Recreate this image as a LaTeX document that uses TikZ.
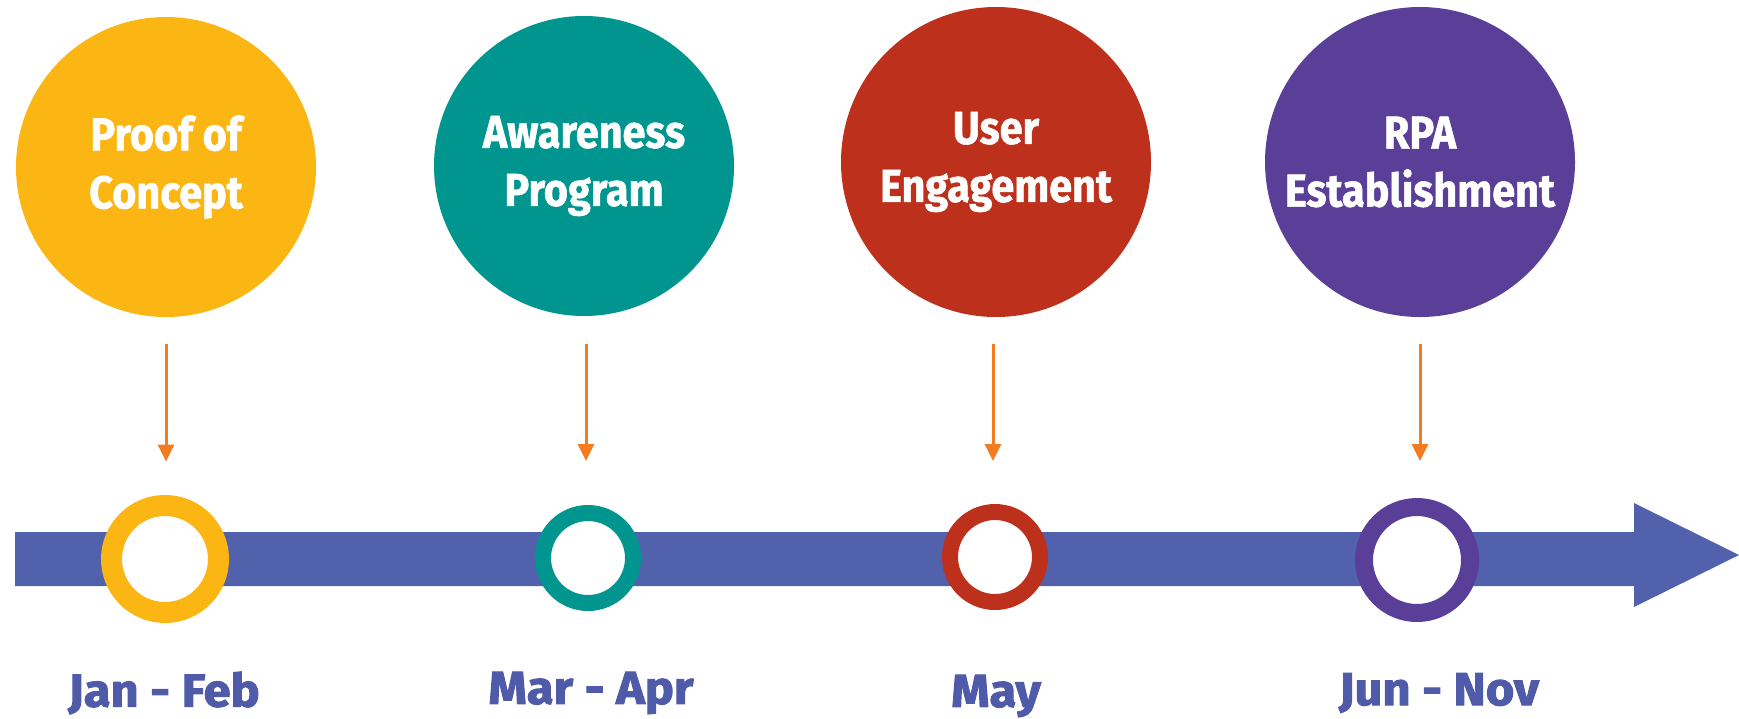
\documentclass[tikz,border=0pt]{standalone}
\usepackage{fontspec}
\setmainfont{Fira Sans}
\newfontfamily\circfont[FakeStretch=0.9,FakeBold=1.2]{Fira Sans}
\newfontfamily\datefont[FakeStretch=1.06,FakeBold=2.2]{Fira Sans}
\usetikzlibrary{arrows.meta}
\definecolor{cyellow}{HTML}{FCB614}
\definecolor{cteal}{HTML}{00958F}
\definecolor{cred}{HTML}{BD301B}
\definecolor{cpurple}{HTML}{5A3F98}
\definecolor{cbar}{HTML}{5161AC}
\definecolor{corange}{HTML}{F47C20}
\definecolor{cdate}{HTML}{4F5BA8}
\begin{document}
\begin{tikzpicture}[x=1pt,y=-1pt,
  bubble/.style={circle,inner sep=0pt,outer sep=0pt,text=white,align=center,
    font=\circfont\bfseries\fontsize{46}{58}\selectfont},
  ring/.style={circle,draw,fill=white,inner sep=0pt,outer sep=0pt},
  pointer/.style={draw=corange,line width=3pt,-{Triangle[width=16pt,length=17pt]}},
  datelabel/.style={text=cdate,font=\datefont\bfseries\fontsize{46}{50}\selectfont,inner sep=0pt}]
\useasboundingbox (0,0) rectangle (1739,718);
% timeline bar
\fill[cbar] (15,532) -- (1634,532) -- (1634,503) -- (1739,555) -- (1634,607) -- (1634,586) -- (15,586) -- cycle;
% bubbles
\node[bubble,fill=cyellow,minimum size=300pt] (c1) at (166,167) {Proof of\\Concept};
\node[bubble,fill=cteal,minimum size=300pt] (c2) at (584,166) {Awareness\\Program};
\node[bubble,fill=cred,minimum size=310pt] (c3) at (996,162) {User\\Engagement};
\node[bubble,fill=cpurple,minimum size=310pt] (c4) at (1420,162) {RPA\\Establishment};
% rings
\node[ring,draw=cyellow,line width=21pt,minimum size=107pt] (r1) at (165,559) {};
\node[ring,draw=cteal,line width=16pt,minimum size=90pt] (r2) at (588,558) {};
\node[ring,draw=cred,line width=16pt,minimum size=90pt] (r3) at (995,557) {};
\node[ring,draw=cpurple,line width=18pt,minimum size=106pt] (r4) at (1417,560) {};
% pointers
\draw[pointer] ([yshift=-27pt]c1.south) -- ([yshift=44pt]c1.south |- r1.north);
\draw[pointer] ([xshift=2pt,yshift=-28pt]c2.south) -- ([xshift=2pt,yshift=52pt]c2.south |- r2.north);
\draw[pointer] ([xshift=-3pt,yshift=-27pt]c3.south) -- ([xshift=-3pt,yshift=51pt]c3.south |- r3.north);
\draw[pointer] ([yshift=-27pt]c4.south) -- ([yshift=46pt]c4.south |- r4.north);
% dates
\node[datelabel] (d1) at (164,693) {Jan - Feb};
\node[datelabel] (d2) at (591,693) {Mar - Apr};
\node[datelabel] (d3) at (996,696) {May};
\node[datelabel] (d4) at (1439,693) {Jun - Nov};
\end{tikzpicture}
\end{document}
